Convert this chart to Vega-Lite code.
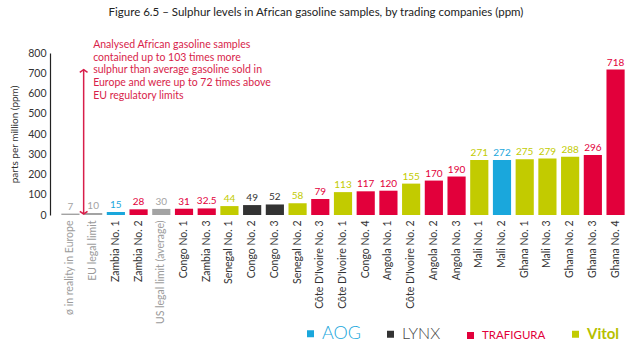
{
  "$schema": "https://vega.github.io/schema/vega-lite/v6.json",
  "autosize": {"type": "none"},
  "padding": {"left": 50, "top": 53, "right": 4, "bottom": 134},
  "width": 586,
  "height": 162,
  "background": "white",
  "config": {
    "font": "Lato",
    "view": {"stroke": null},
    "axis": {"labelFont": "Lato", "titleFont": "Lato"},
    "legend": {"labelFont": "Lato"}
  },
  "title": {
    "text": "Figure 6.5 – Sulphur levels in African gasoline samples, by trading companies (ppm)",
    "fontSize": 11.5,
    "fontWeight": "normal",
    "color": "#222",
    "anchor": "middle",
    "dx": -27,
    "offset": 22
  },
  "resolve": {"axis": {"y": "independent"}},
  "datasets": {
    "bars": [
      {"name": "ø in reality in Europe", "value": 7, "company": "Reference"},
      {"name": "EU legal limit", "value": 10, "company": "Reference"},
      {"name": "Zambia No. 1", "value": 15, "company": "AOG"},
      {"name": "Zambia No. 2", "value": 28, "company": "TRAFIGURA"},
      {"name": "US legal limit (average)", "value": 30, "company": "Reference"},
      {"name": "Congo No. 1", "value": 31, "company": "TRAFIGURA"},
      {"name": "Zambia No. 3", "value": 32.5, "company": "TRAFIGURA"},
      {"name": "Senegal No. 1", "value": 44, "company": "Vitol"},
      {"name": "Congo No. 2", "value": 49, "company": "LYNX"},
      {"name": "Congo No. 3", "value": 52, "company": "LYNX"},
      {"name": "Senegal No. 2", "value": 58, "company": "Vitol"},
      {"name": "Côte D'Ivoire No. 3", "value": 79, "company": "TRAFIGURA"},
      {"name": "Côte D'Ivoire No. 1", "value": 113, "company": "Vitol"},
      {"name": "Congo No. 4", "value": 117, "company": "TRAFIGURA"},
      {"name": "Angola No. 1", "value": 120, "company": "TRAFIGURA"},
      {"name": "Côte D'Ivoire No. 2", "value": 155, "company": "Vitol"},
      {"name": "Angola No. 2", "value": 170, "company": "TRAFIGURA"},
      {"name": "Angola No. 3", "value": 190, "company": "TRAFIGURA"},
      {"name": "Mali No. 1", "value": 271, "company": "Vitol"},
      {"name": "Mali No. 2", "value": 272, "company": "AOG"},
      {"name": "Ghana No. 1", "value": 275, "company": "Vitol"},
      {"name": "Mali No. 3", "value": 279, "company": "Vitol"},
      {"name": "Ghana No. 2", "value": 288, "company": "Vitol"},
      {"name": "Ghana No. 3", "value": 296, "company": "TRAFIGURA"},
      {"name": "Ghana No. 4", "value": 718, "company": "TRAFIGURA"}
    ],
    "arrow": [
      {"name": "EU legal limit", "from": 5, "to": 718}
    ],
    "note": [
      {"name": "EU legal limit", "y": 800, "text": "Analysed African gasoline samples\ncontained up to 103 times more\nsulphur than average gasoline sold in\nEurope and were up to 72 times above\nEU regulatory limits"}
    ]
  },
  "encoding": {
    "x": {
      "field": "name",
      "type": "nominal",
      "sort": null,
      "scale": {
        "domain": ["ø in reality in Europe", "EU legal limit", "Zambia No. 1", "Zambia No. 2", "US legal limit (average)", "Congo No. 1", "Zambia No. 3", "Senegal No. 1", "Congo No. 2", "Congo No. 3", "Senegal No. 2", "Côte D'Ivoire No. 3", "Côte D'Ivoire No. 1", "Congo No. 4", "Angola No. 1", "Côte D'Ivoire No. 2", "Angola No. 2", "Angola No. 3", "Mali No. 1", "Mali No. 2", "Ghana No. 1", "Mali No. 3", "Ghana No. 2", "Ghana No. 3", "Ghana No. 4"],
        "paddingInner": 0.2,
        "paddingOuter": 0.5
      },
      "axis": {
        "title": null,
        "labelAngle": -90,
        "labelFontSize": 10.5,
        "labelColor": {"condition": {"test": "indexof(['ø in reality in Europe','EU legal limit','US legal limit (average)'], datum.value) >= 0", "value": "#9b9b9b"}, "value": "#333"},
        "labelPadding": 5,
        "ticks": false,
        "domain": false,
        "labelLimit": 200
      }
    }
  },
  "layer": [
    {
      "data": {"name": "bars"},
      "mark": {"type": "bar"},
      "encoding": {
        "y": {
          "field": "value",
          "type": "quantitative",
          "scale": {"domain": [0, 800], "nice": false},
          "axis": {
            "title": "parts per million (ppm)",
            "titleFontSize": 10,
            "titleFontWeight": "normal",
            "titleColor": "#333",
            "titlePadding": 8,
            "values": [0, 100, 200, 300, 400, 500, 600, 700, 800],
            "labelOverlap": false,
            "labelFontSize": 10.5,
            "labelColor": "#333",
            "grid": false,
            "domainColor": "#222",
            "domainWidth": 1.2,
            "tickColor": "#222",
            "tickWidth": 1.2,
            "tickSize": 0,
            "labelPadding": 4,
            "encode": {"ticks": {"update": {"x2": {"value": 5}}}}
          }
        },
        "color": {
          "field": "company",
          "type": "nominal",
          "scale": {
            "domain": ["AOG", "LYNX", "TRAFIGURA", "Vitol", "Reference"],
            "range": ["#1aa7dc", "#333333", "#e2003b", "#c2cb00", "#a3a3a3"]
          },
          "legend": {
            "title": null,
            "values": ["AOG", "LYNX", "TRAFIGURA", "Vitol"],
            "orient": "none",
            "direction": "horizontal",
            "legendX": 253,
            "legendY": 273,
            "symbolType": "square",
            "symbolSize": 49,
            "symbolStrokeWidth": 0,
            "labelFontSize": 13,
            "labelOffset": 4,
            "columnPadding": 22,
            "encode": {
              "labels": {
                "update": {
                  "fill": {"signal": "datum.value === 'AOG' ? '#1aa7dc' : datum.value === 'LYNX' ? '#444444' : datum.value === 'TRAFIGURA' ? '#e2003b' : '#b5c000'"},
                  "fontWeight": {"signal": "datum.value === 'Vitol' ? 'bold' : datum.value === 'AOG' || datum.value === 'LYNX' ? 300 : 'normal'"},
                  "fontSize": {"signal": "datum.value === 'AOG' ? 18 : datum.value === 'LYNX' ? 16 : datum.value === 'TRAFIGURA' ? 11.5 : 15"}
                }
              }
            }
          }
        }
      }
    },
    {
      "data": {"name": "bars"},
      "mark": {"type": "text", "baseline": "bottom", "dy": -2, "fontSize": 10},
      "encoding": {
        "y": {"field": "value", "type": "quantitative", "axis": null},
        "text": {"field": "value", "type": "quantitative"},
        "color": {"field": "company", "type": "nominal"}
      }
    },
    {
      "data": {"name": "arrow"},
      "mark": {"type": "rule", "color": "#d81e4a", "strokeWidth": 1.5, "xOffset": -9.5},
      "encoding": {
        "y": {"field": "from", "type": "quantitative", "axis": null},
        "y2": {"field": "to"}
      }
    },
    {
      "data": {"name": "arrow"},
      "mark": {"type": "point", "shape": "M-1,0.7L0,0L1,0.7", "filled": false, "color": "#d81e4a", "strokeWidth": 1.5, "size": 60, "xOffset": -9.5, "opacity": 1},
      "encoding": {
        "y": {"field": "to", "type": "quantitative", "axis": null}
      }
    },
    {
      "data": {"name": "arrow"},
      "mark": {"type": "point", "shape": "M-1,-0.7L0,0L1,-0.7", "filled": false, "color": "#d81e4a", "strokeWidth": 1.5, "size": 60, "xOffset": -9.5, "opacity": 1},
      "encoding": {
        "y": {"field": "from", "type": "quantitative", "axis": null}
      }
    },
    {
      "data": {"name": "note"},
      "mark": {"type": "text", "align": "left", "baseline": "middle", "lineBreak": "\n", "lineHeight": 12.7, "fontSize": 10.5, "color": "#d81e4a", "dx": 0, "dy": -8},
      "encoding": {
        "y": {"field": "y", "type": "quantitative", "axis": null},
        "text": {"field": "text"}
      }
    }
  ]
}
